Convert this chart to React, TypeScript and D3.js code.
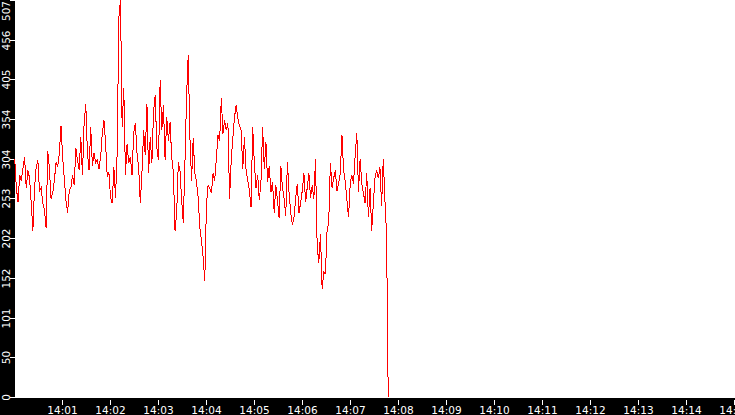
import { useMemo } from 'react';
import * as d3 from 'd3';

// Sampled readings, one every ~2.07 s starting at 14:00:00
const startTime = new Date(2000, 0, 1, 14, 0, 0);
const sampleMs = 2066;
const readings: number[] = [
  305, 268, 249, 284, 277, 292, 307, 267, 290, 280, 248, 213, 268, 294, 303, 264, 268, 248, 239, 216,
  315, 292, 254, 261, 277, 300, 294, 312, 347, 307, 280, 252, 236, 264, 268, 284, 271, 318, 303, 290,
  332, 284, 350, 375, 312, 290, 345, 296, 312, 300, 303, 292, 307, 337, 354, 324, 281, 287, 255, 248,
  294, 255,
  312, 484, 507, 345, 395, 284, 324, 299, 307, 284, 338, 350, 312, 294, 248, 287, 341, 309, 375, 286,
  332, 299, 364, 386, 319, 303, 405, 341, 373, 303, 358, 328, 351, 307, 287, 213, 235, 300, 290, 252,
  223, 300, 386, 437, 332, 277, 331, 286, 275, 255, 217, 201, 179, 149, 245, 271, 267,
  261, 286, 277, 305, 335, 328, 382, 337, 354, 341, 350, 254, 303, 331, 358, 373, 356, 347, 341, 292,
  332, 290, 277, 264, 243, 345, 299, 267, 284, 252, 275, 345, 292, 326, 275, 296, 262, 275, 236, 271,
  252, 229, 296, 268, 254, 232, 300, 261, 236, 220, 230, 255, 273, 235, 249, 264, 286,
  249, 268, 286, 255, 271, 254, 304, 194, 172, 209, 139, 160, 158, 213, 223, 299, 268, 280, 290, 264,
  273, 287, 335, 290, 275, 252, 230, 273, 284, 273, 309, 337, 262, 305, 273, 261, 248, 286, 230, 267,
  213, 248, 280, 290, 280, 294, 245, 305, 252, 207, 0,
];

const yMax = 507;
const yTickLabels = ['0', '50', '101', '152', '202', '253', '304', '354', '405', '456', '507'];
const xTickLabels = [
  '14:01', '14:02', '14:03', '14:04', '14:05', '14:06', '14:07', '14:08',
  '14:09', '14:10', '14:11', '14:12', '14:13', '14:14', '14:15',
];

export default function App() {
  const width = 735;
  const height = 415;
  const plotLeft = 15;
  const plotBottom = 398;
  const font = 'DejaVu Sans, sans-serif';

  const endTime = d3.timeMinute.offset(startTime, 15);
  const x = d3.scaleTime().domain([startTime, endTime]).range([14.7, 734.7]);
  const y = d3.scaleLinear().domain([0, yMax]).range([397.5, 0.3]);

  const data = useMemo(
    () => readings.map((v, i) => ({ t: new Date(startTime.getTime() + i * sampleMs), v })),
    []
  );

  const line = d3
    .line<{ t: Date; v: number }>()
    .x((d) => x(d.t))
    .y((d) => y(d.v));

  const xTicks = xTickLabels.map((label, i) => ({ label, t: d3.timeMinute.offset(startTime, i + 1) }));
  const yTicks = yTickLabels.map((label, i) => ({ label, v: (yMax * i) / 10 }));

  return (
    <svg
      width={width}
      height={height}
      style={{ position: 'fixed', left: 0, top: 0, display: 'block' }}
    >
      <rect x={0} y={0} width={width} height={height} fill='#000' />
      <rect x={plotLeft} y={0} width={width - plotLeft} height={plotBottom} fill='#fff' />

      {/* y axis */}
      <g fontFamily={font} fontSize={10.5} fill='#fff'>
        {yTicks.map((d, i) => {
          const ty = Math.floor(y(d.v)) + 0.5;
          const last = i === yTicks.length - 1;
          return (
            <g key={d.label}>
              <line x1={10} x2={plotLeft} y1={ty} y2={ty} stroke='#fff' strokeWidth={1} shapeRendering='crispEdges' />
              <text
                transform={`translate(9.5,${last ? 1 : ty}) rotate(-90)`}
                textAnchor={last ? 'end' : 'middle'}
              >
                {d.label}
              </text>
            </g>
          );
        })}
      </g>

      {/* x axis */}
      <g fontFamily={font} fontSize={10.5} fill='#fff'>
        {xTicks.map((d) => {
          const tx = Math.floor(x(d.t)) + 0.5;
          return (
            <g key={d.label}>
              <line x1={tx} x2={tx} y1={400} y2={405} stroke='#fff' strokeWidth={1} shapeRendering='crispEdges' />
              <text x={tx} y={413.5} textAnchor='middle'>
                {d.label}
              </text>
            </g>
          );
        })}
      </g>

      <path d={line(data) ?? ''} fill='none' stroke='#ff0000' strokeWidth={1} shapeRendering='crispEdges' />
    </svg>
  );
}
